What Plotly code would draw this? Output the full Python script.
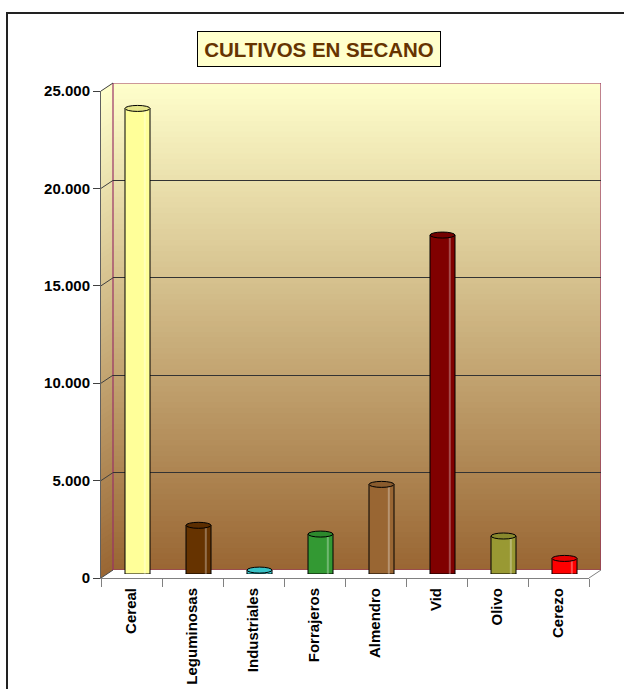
import plotly.graph_objects as go

# ---------------- data ----------------
categories = ["Cereal", "Leguminosas", "Industriales", "Forrajeros",
              "Almendro", "Vid", "Olivo", "Cerezo"]
values = [23900, 2500, 200, 2050, 4600, 17400, 1950, 800]
bar_colors = ["#FFFF99", "#663300", "#40D8DC", "#339933",
              "#996633", "#800000", "#999933", "#FF0000"]
y_tick_values = [0, 5000, 10000, 15000, 20000, 25000]
y_tick_labels = ["0", "5.000", "10.000", "15.000", "20.000", "25.000"]
title_text = "CULTIVOS EN SECANO"

# ---------------- geometry / style ----------------
W, H = 624, 689
YMAX = 25000
FONT = "Liberation Sans, Arial, sans-serif"


def px_x(p):
    return p / W


def px_y(p):
    return (H - p) / H


# front plane (pixels): left, right, bottom, top
FX0, FX1, FY0, FY1 = 101, 589, 578, 91
DX, DY = 12, 8
BX0, BX1, BY0, BY1 = FX0 + DX, FX1 + DX, FY0 - DY, FY1 - DY       # back wall
MX0, MX1, MY0, MY1 = FX0 + DX / 2, FX1 + DX / 2, FY0 - DY / 2, FY1 - DY / 2  # bar plane

BOTTOM_RGB = (153, 102, 51)
TOP_RGB = (255, 255, 204)
PURPLE = "#993366"


def grad(f):
    r = [int(round(b + (t - b) * f)) for b, t in zip(BOTTOM_RGB, TOP_RGB)]
    return "rgb(%d,%d,%d)" % tuple(r)


def darker(hexc, k=0.9):
    h = hexc.lstrip("#")
    r, g, b = int(h[0:2], 16), int(h[2:4], 16), int(h[4:6], 16)
    return "rgb(%d,%d,%d)" % (int(r * k), int(g * k), int(b * k))


fig = go.Figure()

fig.add_trace(go.Bar(x=categories, y=values, xaxis="x", yaxis="y",
                     marker=dict(opacity=0), hoverinfo="skip", showlegend=False))
fig.add_trace(go.Bar(x=categories, y=values, xaxis="x2", yaxis="y2",
                     width=0.41,
                     marker=dict(color=bar_colors, line=dict(color="black", width=1)),
                     hoverinfo="skip", showlegend=False))
fig.add_trace(go.Bar(x=categories, y=values, xaxis="x3", yaxis="y3",
                     marker=dict(opacity=0), hoverinfo="skip", showlegend=False))

shapes = []

N = 90
for k in range(N):
    y0 = YMAX * k / N
    y1 = YMAX * (k + 1) / N + YMAX * 0.004
    shapes.append(dict(type="rect", xref="x", yref="y", x0=-0.5, x1=7.5,
                       y0=y0, y1=min(y1, YMAX), layer="below",
                       fillcolor=grad((k + 0.5) / N), line=dict(width=0)))
shapes.append(dict(type="rect", xref="x", yref="y", x0=-0.5, x1=7.5, y0=0, y1=YMAX,
                   layer="below", line=dict(color=PURPLE, width=1.2)))

for k in range(N):
    f0 = k / N
    f1 = min((k + 1) / N + 0.004, 1)
    fy0 = FY0 + (FY1 - FY0) * f0
    fy1 = FY0 + (FY1 - FY0) * f1
    by0 = BY0 + (BY1 - BY0) * f0
    by1 = BY0 + (BY1 - BY0) * f1
    path = "M %f %f L %f %f L %f %f L %f %f Z" % (
        px_x(FX0), px_y(fy0), px_x(BX0), px_y(by0),
        px_x(BX0), px_y(by1), px_x(FX0), px_y(fy1))
    shapes.append(dict(type="path", xref="paper", yref="paper", path=path,
                       fillcolor=grad((k + 0.5) / N), line=dict(width=0), layer="below"))

floor = "M %f %f L %f %f L %f %f L %f %f Z" % (
    px_x(FX0), px_y(FY0), px_x(FX1), px_y(FY0),
    px_x(BX1), px_y(BY0), px_x(BX0), px_y(BY0))
shapes.append(dict(type="path", xref="paper", yref="paper", path=floor,
                   fillcolor="white", line=dict(width=0), layer="below"))
shapes.append(dict(type="line", xref="paper", yref="paper",
                   x0=px_x(FX1), y0=px_y(FY0), x1=px_x(BX1), y1=px_y(BY0),
                   line=dict(color="#808080", width=1), layer="below"))
shapes.append(dict(type="line", xref="paper", yref="paper",
                   x0=px_x(BX0), y0=px_y(BY0), x1=px_x(BX0), y1=px_y(BY1),
                   line=dict(color=PURPLE, width=1.2), layer="below"))
for v in y_tick_values:
    f = v / YMAX
    shapes.append(dict(type="line", xref="paper", yref="paper",
                       x0=px_x(FX0), y0=px_y(FY0 + (FY1 - FY0) * f),
                       x1=px_x(BX0), y1=px_y(BY0 + (BY1 - BY0) * f),
                       line=dict(color="#404040", width=1), layer="below"))

for i, (v, c) in enumerate(zip(values, bar_colors)):
    shapes.append(dict(type="circle", xref="x2", yref="y2",
                       x0=i - 0.205, x1=i + 0.205, ysizemode="pixel", yanchor=0,
                       y0=-3, y1=3, fillcolor=c, line=dict(color="black", width=1),
                       layer="below"))
    shapes.append(dict(type="line", xref="x2", yref="y2",
                       x0=i + 0.12, x1=i + 0.12, y0=0, y1=v,
                       line=dict(color="rgba(255,255,255,0.3)", width=2), layer="above"))
    shapes.append(dict(type="circle", xref="x2", yref="y2",
                       x0=i - 0.205, x1=i + 0.205, ysizemode="pixel", yanchor=v,
                       y0=-3, y1=3, fillcolor=darker(c), line=dict(color="black", width=1),
                       layer="above"))

shapes.append(dict(type="rect", xref="paper", yref="paper",
                   x0=px_x(7), x1=1.05, y0=-0.05, y1=px_y(13),
                   line=dict(color="#222222", width=2), layer="below"))

hidden_x = dict(type="category", range=[-0.5, 7.5], showgrid=False, showline=False,
                zeroline=False, showticklabels=False, ticks="", fixedrange=True,
                automargin=False)

fig.update_layout(
    width=W, height=H,
    margin=dict(l=0, r=0, t=0, b=0, pad=0, autoexpand=False),
    paper_bgcolor="white", plot_bgcolor="rgba(0,0,0,0)",
    hovermode=False, showlegend=False, bargap=0,
    font=dict(family=FONT, color="black"),
    xaxis=dict(hidden_x, domain=[px_x(BX0), px_x(BX1)], anchor="y"),
    yaxis=dict(domain=[px_y(BY0), px_y(BY1)], anchor="x", range=[0, YMAX],
               tickvals=y_tick_values[1:-1], showgrid=True, gridcolor="#333333",
               gridwidth=1, showticklabels=False, ticks="", zeroline=False,
               showline=False, fixedrange=True, automargin=False),
    xaxis2=dict(hidden_x, domain=[px_x(MX0), px_x(MX1)], anchor="y2"),
    yaxis2=dict(domain=[px_y(MY0), px_y(MY1)], anchor="x2", range=[0, YMAX],
                showgrid=False, showticklabels=False, ticks="", zeroline=False,
                showline=False, fixedrange=True, automargin=False),
    xaxis3=dict(type="category", domain=[px_x(FX0), px_x(FX1)], anchor="y3",
                range=[-0.5, 7.5], tickson="boundaries", ticks="outside", ticklen=8,
                tickcolor="#808080", tickangle=-90, showline=True, linecolor="#808080",
                showgrid=False, zeroline=False, fixedrange=True, automargin=False,
                ticklabelstandoff=3,
                tickfont=dict(family=FONT, size=15, color="black", weight="bold")),
    yaxis3=dict(domain=[px_y(FY0), px_y(FY1)], anchor="x3", range=[0, YMAX],
                tickvals=y_tick_values, ticktext=y_tick_labels, ticks="outside",
                ticklen=7, tickcolor="#404040", showline=True, linecolor="#606060",
                showgrid=False, zeroline=False, fixedrange=True, automargin=False,
                tickfont=dict(family=FONT, size=15, color="black", weight="bold")),
    shapes=shapes,
    annotations=[dict(text=title_text, xref="paper", yref="paper",
                      x=px_x(319), y=px_y(49), xanchor="center", yanchor="middle",
                      showarrow=False, bgcolor="#FFFFCC", bordercolor="black",
                      borderwidth=1, borderpad=4, width=234, height=26,
                      font=dict(family=FONT, size=20.5, color="#663300", weight="bold"))],
)

fig.write_html("out.html", config={"displayModeBar": False, "staticPlot": True},
               post_script="document.body.style.margin='0';document.body.style.overflow='hidden';")
